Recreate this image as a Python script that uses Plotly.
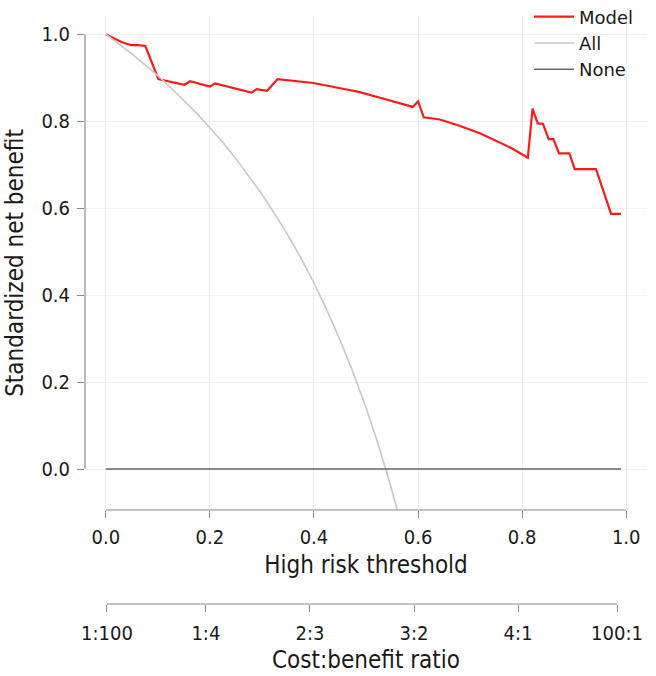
import plotly.graph_objects as go

# ---- data ----
model_x = [0.0, 0.024, 0.030, 0.043, 0.049, 0.062, 0.076, 0.101, 0.117, 0.151,
           0.162, 0.200, 0.210, 0.280, 0.290, 0.310, 0.330, 0.399, 0.463, 0.488,
           0.527, 0.590, 0.600, 0.611, 0.642, 0.681, 0.720, 0.745, 0.780, 0.811,
           0.820, 0.830, 0.840, 0.851, 0.860, 0.871, 0.891, 0.901, 0.942, 0.971, 0.990]
model_y = [1.000, 0.985, 0.982, 0.977, 0.975, 0.975, 0.973, 0.897, 0.893, 0.884,
           0.892, 0.880, 0.887, 0.866, 0.874, 0.870, 0.897, 0.888, 0.873, 0.867,
           0.854, 0.833, 0.846, 0.809, 0.804, 0.789, 0.772, 0.758, 0.738, 0.716,
           0.829, 0.795, 0.794, 0.759, 0.759, 0.726, 0.726, 0.690, 0.690, 0.587, 0.587]

all_x = [0.0, 0.025, 0.05, 0.075, 0.10, 0.125, 0.15, 0.175, 0.20, 0.225, 0.25, 0.275,
         0.30, 0.325, 0.35, 0.375, 0.40, 0.425, 0.45, 0.475, 0.50, 0.52, 0.54, 0.56, 0.58]
all_y = [1.000, 0.978, 0.955, 0.930, 0.905, 0.877, 0.848, 0.818, 0.785, 0.751, 0.714, 0.674,
         0.632, 0.586, 0.538, 0.485, 0.428, 0.365, 0.297, 0.223, 0.141, 0.070, -0.008, -0.093, -0.186]

none_x = [0.0, 0.99]
none_y = [0.0, 0.0]

x_ticks = [0.0, 0.2, 0.4, 0.6, 0.8, 1.0]
y_ticks = [0.0, 0.2, 0.4, 0.6, 0.8, 1.0]
cb_ticks = [1 / 101, 0.2, 0.4, 0.6, 0.8, 100 / 101]
cb_labels = ["1:100", "1:4", "2:3", "3:2", "4:1", "100:1"]

FONT = "DejaVu Sans Condensed, DejaVu Sans"
TXT = "#1a1a1a"
AX = "#8a8a8a"
GRID = "#f0f0f0"

fig = go.Figure()
fig.add_trace(go.Scatter(x=model_x, y=model_y, mode="lines", name="Model",
                         line=dict(color="#ff1a1a", width=2.2)))
fig.add_trace(go.Scatter(x=all_x, y=all_y, mode="lines", name="All",
                         line=dict(color="#c8c8c8", width=1.6)))
fig.add_trace(go.Scatter(x=none_x, y=none_y, mode="lines", name="None",
                         line=dict(color="#666666", width=1.5)))
# invisible trace to activate the secondary (cost:benefit) axis
fig.add_trace(go.Scatter(x=cb_ticks, y=[None] * len(cb_ticks), xaxis="x2",
                         mode="lines", showlegend=False, hoverinfo="skip"))

y_dom0 = (604 - 510) / 588

fig.update_layout(
    width=656, height=676,
    margin=dict(l=85, r=9, t=16, b=72, autoexpand=False),
    paper_bgcolor="white", plot_bgcolor="white",
    font=dict(family=FONT, size=20, color=TXT),
    showlegend=True,
    legend=dict(x=0.79, y=1.03, xref="paper", yref="paper", xanchor="left", yanchor="top",
                font=dict(family="DejaVu Sans", size=18, color=TXT), bgcolor="rgba(0,0,0,0)",
                tracegroupgap=0, itemwidth=40),
    xaxis=dict(range=[-0.04, 1.04], tickvals=x_ticks, tickformat=".1f",
               ticks="outside", ticklen=7, tickcolor=AX, tickwidth=1,
               showline=False, zeroline=False, showgrid=True, gridcolor=GRID,
               ticklabelstandoff=2,
               title=dict(text="High risk threshold", standoff=8),
               automargin=False, anchor="y"),
    xaxis2=dict(range=[-0.0323, 1.0477], overlaying="x", anchor="free", position=0,
                side="bottom", tickvals=cb_ticks, ticktext=cb_labels,
                ticks="outside", ticklen=7, tickcolor=AX, tickwidth=1,
                showline=False, zeroline=False, showgrid=False,
                ticklabelstandoff=4,
                title=dict(text="Cost:benefit ratio", standoff=7),
                automargin=False),
    yaxis=dict(domain=[y_dom0, 1], range=[-0.094, 1.042], tickvals=y_ticks, tickformat=".1f",
               ticks="outside", ticklen=7, tickcolor=AX, tickwidth=1,
               showline=False, zeroline=False, showgrid=True, gridcolor=GRID,
               ticklabelstandoff=3,
               title=dict(text="Standardized net benefit", standoff=10),
               automargin=False),
)

# R-style axis lines spanning only the tick range
fig.add_shape(type="line", xref="x", yref="y domain", x0=0, x1=1, y0=0, y1=0,
              line=dict(color=AX, width=1.2))
fig.add_shape(type="line", xref="x domain", yref="y", x0=0, x1=0, y0=0, y1=1,
              line=dict(color=AX, width=1.2))
fig.add_shape(type="line", xref="x2", yref="paper", x0=cb_ticks[0], x1=cb_ticks[-1],
              y0=0, y1=0, line=dict(color=AX, width=1.2))

fig.write_html("out.html", config={"displayModeBar": False},
               post_script="document.body.style.margin='0';document.body.style.overflow='hidden';")
